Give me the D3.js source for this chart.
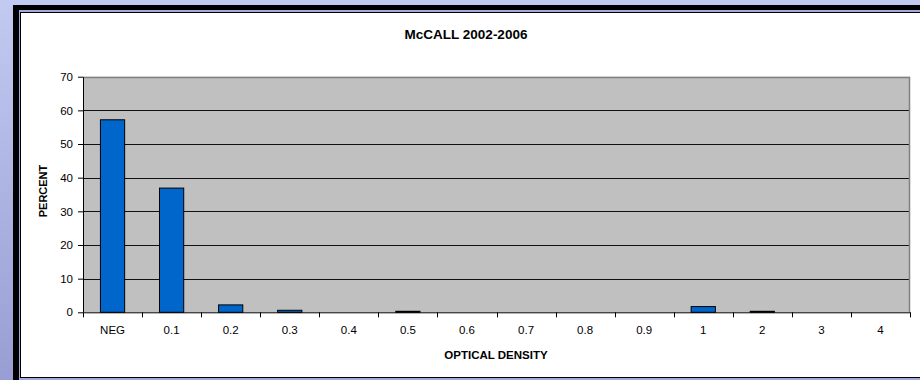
<!DOCTYPE html>
<html>
<head>
<meta charset="utf-8">
<script src="https://cdn.jsdelivr.net/npm/d3@7/dist/d3.min.js"></script>
<style>
  html, body { margin: 0; padding: 0; background: #fff; }
  svg { display: block; }
  text { font-family: "Liberation Sans", Arial, sans-serif; fill: #000; }
</style>
</head>
<body>
<svg id="chart" width="920" height="380"></svg>
<script>
const title = "McCALL 2002-2006";
const xTitle = "OPTICAL DENSITY";
const yTitle = "PERCENT";
const categories = ["NEG", "0.1", "0.2", "0.3", "0.4", "0.5", "0.6", "0.7", "0.8", "0.9", "1", "2", "3", "4"];
const percentValues = [57.2, 36.9, 2.2, 0.6, 0, 0.3, 0, 0, 0, 0, 1.7, 0.3, 0, 0];
const yTicks = [0, 10, 20, 30, 40, 50, 60, 70];

const svg = d3.select("#chart");
const W = 920, H = 380;

// background gradient
const defs = svg.append("defs");
const grad = defs.append("linearGradient").attr("id", "bg").attr("x1", 0).attr("y1", 0).attr("x2", 0).attr("y2", 1);
grad.append("stop").attr("offset", "0%").attr("stop-color", "#c2caf1");
grad.append("stop").attr("offset", "100%").attr("stop-color", "#989ed3");
svg.append("rect").attr("width", W).attr("height", H).attr("fill", "url(#bg)");

// frame
svg.append("rect").attr("x", 13).attr("y", 5).attr("width", W - 13).attr("height", H - 5).attr("fill", "#000");
svg.append("rect").attr("x", 19).attr("y", 10).attr("width", W - 19).attr("height", H - 10).attr("fill", "#a3a9da");
svg.append("rect").attr("x", 20.5).attr("y", 12.5).attr("width", W + 10).attr("height", 365)
  .attr("fill", "#fff").attr("stroke", "#000").attr("stroke-width", 1);

// plot
const plot = { left: 83, right: 910, top: 76.7, bottom: 312.3 };
const x = d3.scaleBand().domain(categories).range([plot.left, plot.right]).paddingInner(0).paddingOuter(0);
const y = d3.scaleLinear().domain([0, 70]).range([plot.bottom, plot.top]);

svg.append("rect").attr("x", plot.left).attr("y", plot.top)
  .attr("width", plot.right - plot.left).attr("height", plot.bottom - plot.top)
  .attr("fill", "#c0c0c0");

// gridlines
svg.append("g").selectAll("line").data(yTicks.filter(d => d > 0 && d < 70)).join("line")
  .attr("x1", plot.left).attr("x2", plot.right)
  .attr("y1", d => Math.round(y(d)) + 0.5).attr("y2", d => Math.round(y(d)) + 0.5)
  .attr("stroke", "#111").attr("stroke-width", 1);

// plot border top/right
svg.append("path")
  .attr("d", `M${plot.left},${Math.round(plot.top)+0.5}H${plot.right - 0.5}V${plot.bottom}`)
  .attr("fill", "none").attr("stroke", "#808080").attr("stroke-width", 1.5);

// bars
const barW = x.bandwidth() * 0.41;
svg.append("g").selectAll("rect").data(categories.map((c, i) => ({ c, v: percentValues[i] })).filter(d => d.v > 0))
  .join("rect")
  .attr("x", d => x(d.c) + (x.bandwidth() - barW) / 2)
  .attr("y", d => y(d.v))
  .attr("width", barW)
  .attr("height", d => y(0) - y(d.v))
  .attr("fill", "#0066cc")
  .attr("stroke", "#000").attr("stroke-width", 1);

// y axis
const yAxis = d3.axisLeft(y).tickValues(yTicks).tickSize(5).tickSizeOuter(0).tickPadding(5);
const gy = svg.append("g").attr("transform", `translate(${plot.left},0)`).call(yAxis);
gy.select(".domain").attr("stroke", "#000");
gy.selectAll(".tick line").attr("stroke", "#000");
gy.selectAll("text").attr("font-size", 11.5).attr("font-family", "Liberation Sans, Arial, sans-serif").attr("fill", "#000");

// x axis labels
const xAxis = d3.axisBottom(x).tickSize(0).tickSizeOuter(0).tickPadding(14);
const gx = svg.append("g").attr("transform", `translate(0,${plot.bottom})`).call(xAxis);
gx.select(".domain").attr("stroke", "#000");
gx.selectAll("text").attr("font-size", 11.5).attr("font-family", "Liberation Sans, Arial, sans-serif").attr("fill", "#000");

// x ticks at band boundaries
const bounds = categories.map(c => x(c)).concat([x(categories[categories.length - 1]) + x.bandwidth()]);
svg.append("g").selectAll("line").data(bounds).join("line")
  .attr("x1", d => Math.round(d) + 0.5).attr("x2", d => Math.round(d) + 0.5)
  .attr("y1", plot.bottom).attr("y2", plot.bottom + 5)
  .attr("stroke", "#000");

// titles
svg.append("text").attr("x", 466).attr("y", 38.5).attr("text-anchor", "middle")
  .attr("font-size", 13.5).attr("font-weight", "bold").text(title);
svg.append("text").attr("x", 496).attr("y", 359).attr("text-anchor", "middle")
  .attr("font-size", 11.5).attr("font-weight", "bold").text(xTitle);
svg.append("text").attr("transform", `translate(47,191) rotate(-90)`).attr("text-anchor", "middle")
  .attr("font-size", 11).attr("font-weight", "bold").text(yTitle);
</script>
</body>
</html>
